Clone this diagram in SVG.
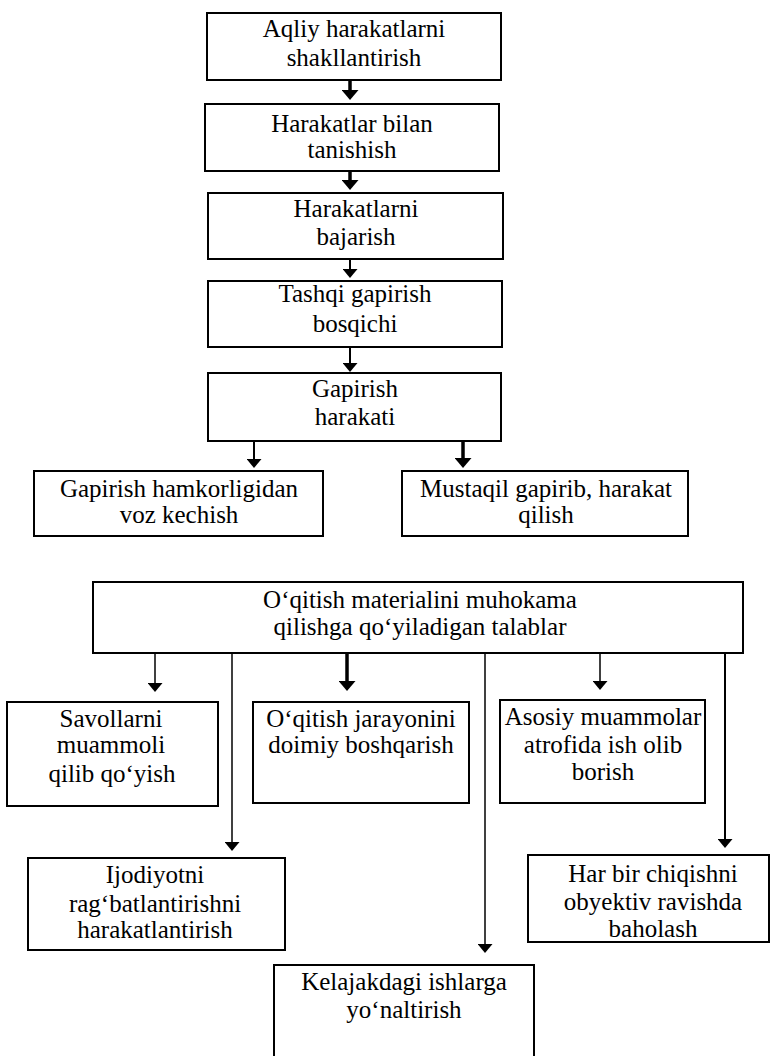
<svg xmlns="http://www.w3.org/2000/svg" width="772" height="1056" viewBox="0 0 772 1056">
<style>
.box{fill:#fff;stroke:#000;stroke-width:2}
text{font-family:'Liberation Serif','DejaVu Serif',serif;font-size:25px;fill:#000;text-anchor:middle}
.thick{stroke:#000;stroke-width:3.5;fill:none;marker-end:url(#ahBig)}
.mid{stroke:#000;stroke-width:2;fill:none;marker-end:url(#ah)}
.thin{stroke:#000;stroke-width:1.5;fill:none;marker-end:url(#ah)}
</style>
<defs>
<marker id="ah" markerUnits="userSpaceOnUse" viewBox="0 0 9 15" refX="2" refY="7.5" markerWidth="9" markerHeight="15" orient="auto">
<path d="M0,0 L9,7.5 L0,15 z" fill="#000"/>
</marker>
<marker id="ahBig" markerUnits="userSpaceOnUse" viewBox="0 0 10 17" refX="2" refY="8.5" markerWidth="10" markerHeight="17" orient="auto">
<path d="M0,0 L10,8.5 L0,17 z" fill="#000"/>
</marker>
</defs>
<rect width="772" height="1056" fill="#fff"/>

<g id="connectors">
<line class="thick" x1="350" y1="80" x2="350" y2="92"/>
<line class="thick" x1="350" y1="171" x2="350" y2="182"/>
<line class="mid" x1="350" y1="259" x2="350" y2="271"/>
<line class="mid" x1="350" y1="347" x2="350" y2="365"/>
<line class="mid" x1="254" y1="441" x2="254" y2="461"/>
<line class="thick" x1="463" y1="441" x2="463" y2="460"/>
<line class="thin" x1="155" y1="653" x2="155" y2="685"/>
<line class="thin" x1="232" y1="653" x2="232" y2="844"/>
<line class="thick" x1="347" y1="653" x2="347" y2="683"/>
<line class="thin" x1="485" y1="653" x2="485" y2="946"/>
<line class="thin" x1="600" y1="653" x2="600" y2="683"/>
<line class="mid" x1="725" y1="653" x2="725" y2="841"/>
</g>

<g id="n1" font-family="Liberation Serif, serif"><rect class="box" x="207" y="13" width="294" height="67"/>
<text x="354" y="37">Aqliy harakatlarni</text><text x="354" y="66">shakllantirish</text></g>
<g id="n2"><rect class="box" x="205" y="104" width="294" height="67"/>
<text x="352" y="132">Harakatlar bilan</text><text x="352" y="158">tanishish</text></g>
<g id="n3"><rect class="box" x="208" y="193" width="295" height="66"/>
<text x="356" y="217">Harakatlarni</text><text x="356" y="245">bajarish</text></g>
<g id="n4"><rect class="box" x="208" y="281" width="294" height="66"/>
<text x="355" y="302">Tashqi gapirish</text><text x="355" y="332">bosqichi</text></g>
<g id="n5"><rect class="box" x="208" y="373" width="293" height="68"/>
<text x="355" y="397">Gapirish</text><text x="355" y="425">harakati</text></g>
<g id="n6"><rect class="box" x="34" y="471" width="289" height="65"/>
<text x="179" y="497">Gapirish hamkorligidan</text><text x="179" y="523">voz kechish</text></g>
<g id="n7"><rect class="box" x="402" y="471" width="286" height="65"/>
<text x="546" y="497">Mustaqil gapirib, harakat</text><text x="546" y="523">qilish</text></g>
<g id="n8"><rect class="box" x="93" y="582" width="650" height="71"/>
<text x="420" y="608">O‘qitish materialini muhokama</text><text x="420" y="635">qilishga qo‘yiladigan talablar</text></g>
<g id="n9"><rect class="box" x="7" y="702" width="211" height="104"/>
<text x="111" y="727">Savollarni</text><text x="111" y="753">muammoli</text><text x="112" y="782">qilib qo‘yish</text></g>
<g id="n10"><rect class="box" x="253" y="702" width="216" height="101"/>
<text x="361" y="727">O‘qitish jarayonini</text><text x="361" y="753">doimiy boshqarish</text></g>
<g id="n11"><rect class="box" x="500" y="700" width="205" height="103"/>
<text x="603" y="725">Asosiy muammolar</text><text x="603" y="753">atrofida ish olib</text><text x="603" y="780">borish</text></g>
<g id="n12"><rect class="box" x="28" y="858" width="257" height="92"/>
<text x="155" y="883">Ijodiyotni</text><text x="155" y="912">rag‘batlantirishni</text><text x="155" y="938">harakatlantirish</text></g>
<g id="n13"><rect class="box" x="528" y="855" width="241" height="87"/>
<text x="653" y="882">Har bir chiqishni</text><text x="653" y="910">obyektiv ravishda</text><text x="653" y="937">baholash</text></g>
<g id="n14"><rect class="box" x="274" y="965" width="260" height="100"/>
<text x="404" y="990">Kelajakdagi ishlarga</text><text x="404" y="1018">yo‘naltirish</text></g>
</svg>
